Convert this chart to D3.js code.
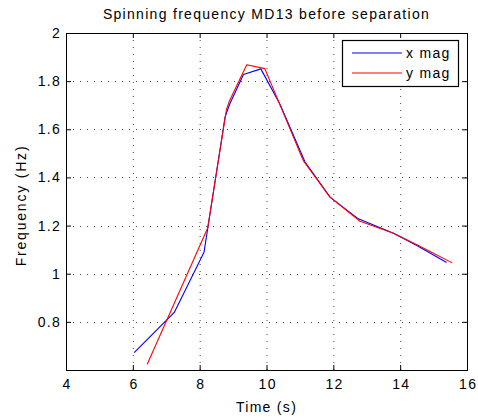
<!DOCTYPE html>
<html>
<head>
<meta charset="utf-8">
<script src="https://cdn.jsdelivr.net/npm/d3@7/dist/d3.min.js"></script>
<style>
  html, body { margin: 0; padding: 0; background: #fff; }
  svg { display: block; font-family: "Liberation Sans", Arial, sans-serif; }
  svg text { letter-spacing: 1.3px; }
</style>
</head>
<body>
<svg id="chart" width="478" height="419"></svg>
<script>
// Spin frequency estimated from the x and y magnetometer axes
const xMagTime = [6.04, 7.24, 8.13, 8.76, 8.90, 9.31, 9.83, 10.40, 11.15, 11.90, 12.75, 13.80, 14.50, 15.39];
const xMagFreq = [0.672, 0.839, 1.089, 1.651, 1.705, 1.828, 1.851, 1.705, 1.465, 1.318, 1.228, 1.168, 1.117, 1.047];
const yMagTime = [6.43, 8.24, 8.80, 8.88, 9.41, 9.95, 11.10, 11.90, 12.80, 13.80, 14.50, 15.56];
const yMagFreq = [0.624, 1.190, 1.680, 1.714, 1.868, 1.852, 1.470, 1.318, 1.218, 1.168, 1.120, 1.045];

const xTicks = [4, 6, 8, 10, 12, 14, 16];
const yTicks = [0.8, 1, 1.2, 1.4, 1.6, 1.8, 2];
const seriesNames = ["x mag", "y mag"];
const seriesColors = ["#0000ff", "#ff0000"];

const margin = { left: 66, top: 33, right: 11, bottom: 49 };
const W = 478, H = 419;
const iw = W - margin.left - margin.right;
const ih = H - margin.top - margin.bottom;
const FS = 14;

const svg = d3.select("#chart");
const g = svg.append("g").attr("transform", `translate(${margin.left},${margin.top})`);

const x = d3.scaleLinear().domain([4, 16]).range([0, iw]);
const y = d3.scaleLinear().domain([0.6, 2]).range([ih, 0]);

// dotted grid
const grid = g.append("g").attr("stroke", "#000").attr("stroke-width", 1)
  .attr("stroke-dasharray", "1,6").attr("opacity", 0.7);
xTicks.filter(t => t > 4 && t < 16).forEach(t => {
  grid.append("line").attr("x1", x(t) + 0.5).attr("x2", x(t) + 0.5).attr("y1", 0).attr("y2", ih);
});
yTicks.filter(t => t < 2).forEach(t => {
  grid.append("line").attr("x1", 0).attr("x2", iw).attr("y1", Math.round(y(t)) + 0.5).attr("y2", Math.round(y(t)) + 0.5);
});

// data lines
const line = d3.line().x(d => x(d[0])).y(d => y(d[1]));
const seriesData = [
  d3.zip(xMagTime, xMagFreq),
  d3.zip(yMagTime, yMagFreq)
];
seriesData.forEach((pts, i) => {
  g.append("path").datum(pts).attr("d", line)
    .attr("fill", "none").attr("stroke", seriesColors[i]).attr("stroke-width", 1.1)
    .attr("stroke-linejoin", "round");
});

// axes with inward ticks on all four sides
const fmt = d => String(d);
const bottomAxis = d3.axisBottom(x).tickValues(xTicks).tickSizeInner(-5).tickSizeOuter(0).tickPadding(9).tickFormat(fmt);
const topAxis = d3.axisTop(x).tickValues(xTicks).tickSizeInner(-5).tickSizeOuter(0).tickFormat("");
const leftAxis = d3.axisLeft(y).tickValues(yTicks).tickSizeInner(-5).tickSizeOuter(0).tickPadding(5).tickFormat(fmt);
const rightAxis = d3.axisRight(y).tickValues(yTicks).tickSizeInner(-5).tickSizeOuter(0).tickFormat("");

function styleAxis(sel) {
  sel.select(".domain").remove();
  sel.selectAll("line").attr("stroke", "#000");
  sel.selectAll("text").attr("fill", "#000").attr("font-size", FS);
}
g.append("g").attr("transform", `translate(0,${ih})`).call(bottomAxis).call(styleAxis)
  .selectAll("text").attr("dx", "0.65px");
g.append("g").call(topAxis).call(styleAxis);
g.append("g").call(leftAxis).call(styleAxis);
g.append("g").attr("transform", `translate(${iw},0)`).call(rightAxis).call(styleAxis);

// axes box
g.append("rect").attr("x", 0.5).attr("y", 0.5).attr("width", iw).attr("height", ih)
  .attr("fill", "none").attr("stroke", "#000").attr("stroke-width", 1);

// title and axis labels
svg.append("text").attr("x", margin.left + iw / 2).attr("y", 19)
  .attr("text-anchor", "middle").attr("font-size", FS).text("Spinning frequency MD13 before separation");
svg.append("text").attr("x", margin.left + iw / 2).attr("y", 412)
  .attr("text-anchor", "middle").attr("font-size", FS).text("Time (s)");
svg.append("text").attr("transform", `translate(26,${margin.top + ih / 2 + 4}) rotate(-90)`)
  .attr("text-anchor", "middle").attr("font-size", FS).style("letter-spacing", "1.8px").text("Frequency (Hz)");

// legend
const lg = svg.append("g").attr("transform", "translate(342,40)");
lg.append("rect").attr("x", 0.5).attr("y", 0.5).attr("width", 116).attr("height", 46)
  .attr("fill", "#fff").attr("stroke", "#000").attr("stroke-width", 1.2);
seriesNames.forEach((name, i) => {
  const yy = 13 + i * 20;
  lg.append("line").attr("x1", 10).attr("x2", 60).attr("y1", yy).attr("y2", yy)
    .attr("stroke", seriesColors[i]).attr("stroke-width", 1.1);
  lg.append("text").attr("x", 64).attr("y", yy + 5).attr("font-size", FS).text(name);
});
</script>
</body>
</html>
